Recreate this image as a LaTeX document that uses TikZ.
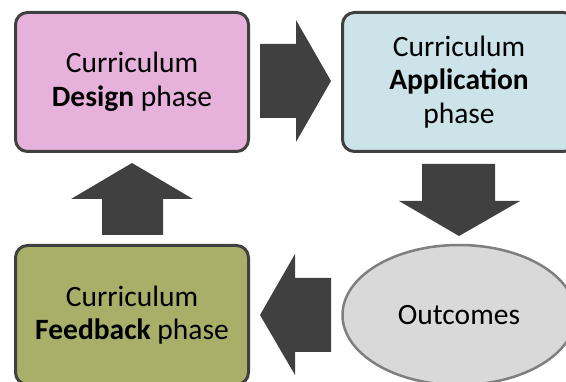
\documentclass[tikz,border=0pt]{standalone}
\usepackage{fontspec}
\setmainfont{Carlito}
\usetikzlibrary{shapes.geometric}
\definecolor{designc}{HTML}{E6B1DA}
\definecolor{applc}{HTML}{CCE4E9}
\definecolor{feedc}{HTML}{A9AF69}
\definecolor{outc}{HTML}{D9D9D9}
\definecolor{darkc}{HTML}{404040}
\definecolor{ellc}{HTML}{7F7F7F}
\begin{document}
\begin{tikzpicture}[x=1pt,y=-1pt,
  phasebox/.style={draw=darkc,line width=3pt,rounded corners=12pt,minimum width=233pt,minimum height=139pt,
    align=center,inner sep=0pt,font=\fontsize{29.5}{33.5}\selectfont},
  blockarrow/.style={fill=darkc,draw=none}]
\useasboundingbox (0,0) rectangle (566,382);
\clip (0,0) rectangle (566,382);
\node[phasebox,fill=designc] (design) at (132,82) {Curriculum\\\textbf{Design} phase};
\node[phasebox,fill=applc] (appl) at (459,82) {Curriculum\\\textbf{Application}\\phase};
\node[phasebox,fill=feedc] (feed) at (132,315) {Curriculum\\\textbf{Feedback} phase};
\node[ellipse,draw=ellc,line width=2.5pt,fill=outc,minimum width=233pt,minimum height=140pt,inner sep=0pt,
  font=\fontsize{29.5}{33.5}\selectfont] (out) at (459,315) {Outcomes};
% right arrow
\fill[blockarrow] (260,44) -- (296,44) -- (296,20) -- (331,81) -- (296,142) -- (296,118) -- (260,118) -- cycle;
% down arrow
\fill[blockarrow] (422,164) -- (495,164) -- (495,201) -- (520,201) -- (459,236) -- (399,201) -- (422,201) -- cycle;
% left arrow
\fill[blockarrow] (331,278) -- (295,278) -- (295,254) -- (260,315) -- (295,375) -- (295,352) -- (331,352) -- cycle;
% up arrow
\fill[blockarrow] (102,235) -- (163,235) -- (163,199) -- (193,199) -- (132,163) -- (71,199) -- (102,199) -- cycle;
\end{tikzpicture}
\end{document}
